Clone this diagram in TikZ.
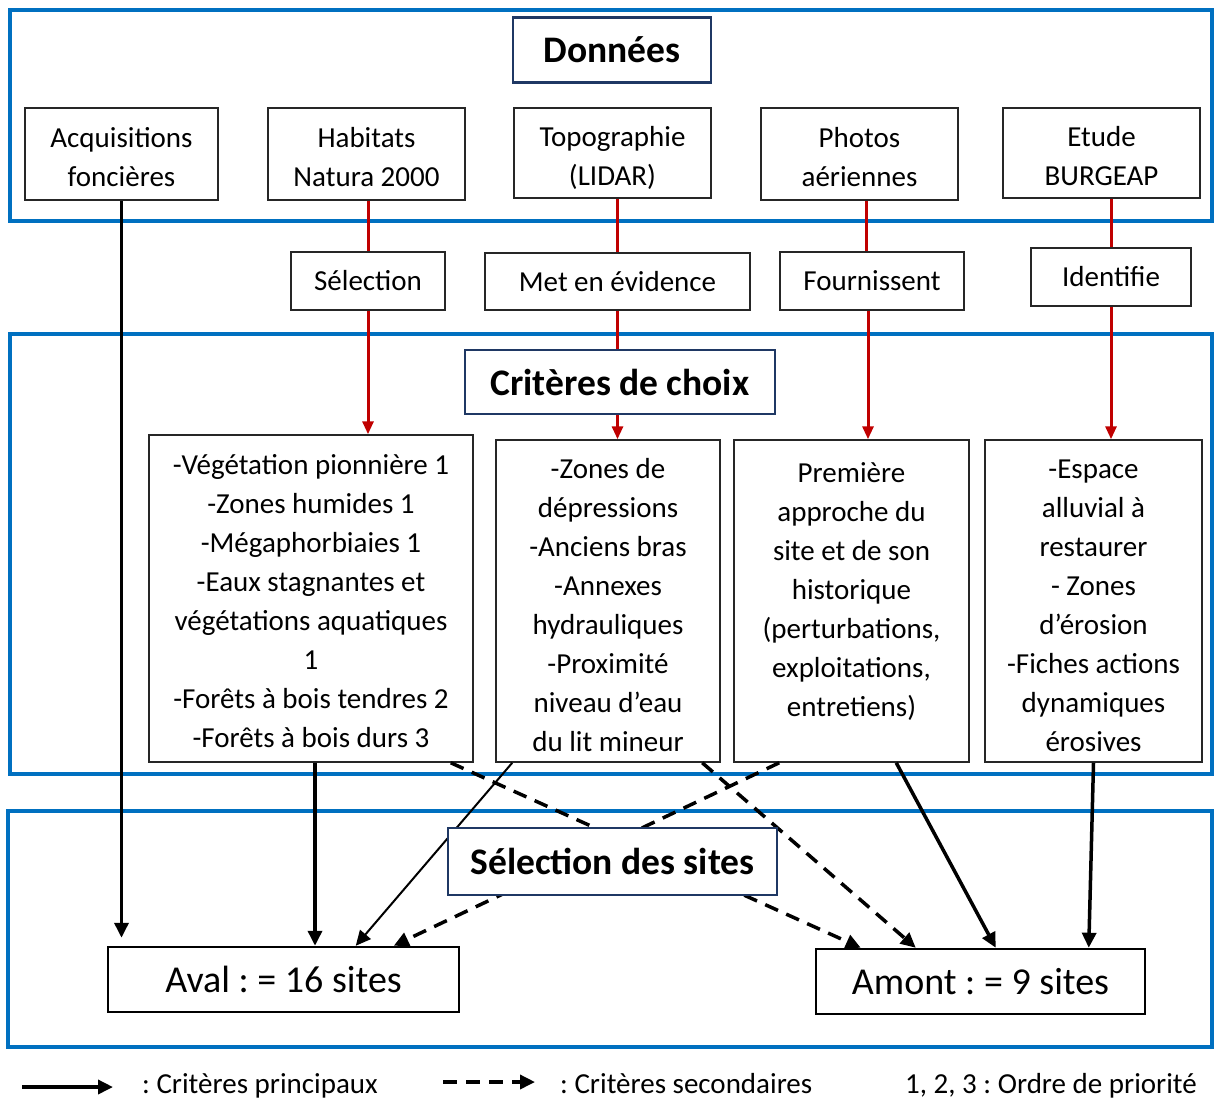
\documentclass[tikz,border=0pt]{standalone}
\usepackage{fontspec}
\setmainfont{Carlito}
\usetikzlibrary{arrows.meta,calc}
\definecolor{frameblue}{RGB}{0,112,192}
\definecolor{navy}{RGB}{31,56,100}
\definecolor{linkred}{RGB}{192,0,0}
\newcommand{\toppad}[1]{\rule{0pt}{#1}}
\tikzset{
  box/.style={draw=black!85, line width=1.5pt, fill=white, inner sep=0pt, align=center, font=\fontsize{29}{39}\selectfont},
  multibox/.style={box, execute at end node={\strut}},
  plaintext/.style={inner sep=0pt, align=center, font=\fontsize{29}{39}\selectfont, execute at end node=\strut},
  titlebox/.style={draw=navy, line width=2.5pt, fill=white, inner sep=0pt, font=\fontsize{37.5}{42}\selectfont\bfseries},
  resultbox/.style={draw=black, line width=2.5pt, fill=white, inner sep=0pt, font=\fontsize{38}{42}\selectfont},
  frame/.style={draw=frameblue, line width=4pt},
  redlink/.style={draw=linkred, line width=3pt},
  redarrow/.style={redlink, -{Triangle[length=13pt,width=11pt]}},
  mainarrow/.style={draw=black, line width=3.5pt, -{Triangle[length=15pt,width=14pt]}},
  secarrow/.style={mainarrow, dash pattern=on 14pt off 9pt},
  thinarrow/.style={mainarrow, line width=2pt},
  legendtext/.style={inner sep=0pt, font=\fontsize{29}{39}\selectfont}
}
\begin{document}
\frenchspacing
\begin{tikzpicture}[x=1pt,y=-1pt]
\useasboundingbox (0,0) rectangle (1214,1101);
% blue frames
\draw[frame] (10,10) rectangle (1212,221);
\draw[frame] (10,334) rectangle (1212,774);
\draw[frame] (8,811) rectangle (1212,1047);

% titles
\node[titlebox, minimum width=198pt, minimum height=65pt] (donnees) at (612,50) {Données};

% data boxes
\node[multibox, minimum width=193pt, minimum height=92pt] (acq) at (121.5,154) {\toppad{38pt}Acquisitions\\foncières};
\node[multibox, minimum width=197pt, minimum height=92pt] (hab) at (366.5,154) {\toppad{38pt}Habitats\\Natura 2000};
\node[multibox, minimum width=197pt, minimum height=90pt] (topo) at (612.5,153) {\toppad{38pt}Topographie\\(LIDAR)};
\node[multibox, minimum width=197pt, minimum height=92pt] (photo) at (859.5,154) {\toppad{38pt}Photos\\aériennes};
\node[multibox, minimum width=197pt, minimum height=90pt] (etude) at (1101.5,153) {\toppad{38pt}Etude\\BURGEAP};

% verb boxes
\node[box, minimum width=154pt, minimum height=58pt] (sel) at (368,281) {Sélection};
\node[box, minimum width=265pt, minimum height=57pt] (met) at (617.5,281.5) {Met en évidence};
\node[box, minimum width=184pt, minimum height=58pt] (four) at (872,281) {Fournissent};
\node[box, minimum width=160pt, minimum height=58pt] (ident) at (1111,277) {Identifie};

% content boxes
\node[multibox, minimum width=324pt, minimum height=327pt] (ca) at (311,598.5) {\toppad{36pt}-Végétation pionnière 1\\-Zones humides 1\\-Mégaphorbiaies 1\\-Eaux stagnantes et\\végétations aquatiques\\1\\-Forêts à bois tendres 2\\-Forêts à bois durs 3};
\node[box, minimum width=224pt, minimum height=322pt] (cb) at (608,601) {\toppad{29pt}-Zones de\\dépressions\\-Anciens bras\\-Annexes\\hydrauliques\\-Proximité\\niveau d’eau\\du lit mineur};
\node[box, minimum width=235pt, minimum height=322pt] (cc) at (851.5,601) {};
\node[plaintext] (cctext) at (851.5,595) {Première\\approche du\\site et de son\\historique\\(perturbations,\\exploitations,\\entretiens)};
\node[box, minimum width=217pt, minimum height=322pt] (cd) at (1093.5,601) {\toppad{29pt}-Espace\\alluvial à\\restaurer\\- Zones\\d’érosion\\-Fiches actions\\dynamiques\\érosives};

% results
\node[resultbox, minimum width=351pt, minimum height=65pt] (aval) at (283.5,979.5) {Aval : = 16 sites};
\node[resultbox, minimum width=329pt, minimum height=65pt] (amont) at (980.5,981.5) {Amont : = 9 sites};

% red links
\draw[redlink] (sel.north |- hab.south) -- (sel.north);
\draw[redarrow] (sel.south) -- (sel.south |- ca.north);
\draw[redlink] (met.north |- topo.south) -- (met.north);
\draw[redarrow] (met.south) -- (met.south |- cb.north);
\coordinate (ph) at ($(photo.south)+(7,0)$);
\draw[redlink] (ph) -- (ph |- four.north);
\coordinate (fo) at ($(four.south)+(-4,0)$);
\draw[redarrow] (fo) -- (fo |- cc.north);
\draw[redlink] (ident.north |- etude.south) -- (ident.north);
\draw[redarrow] (ident.south) -- (ident.south |- cd.north);

\node[titlebox, minimum width=310pt, minimum height=64pt] (criteres) at (620,382) {Critères de choix};

% black connectors
\draw[mainarrow, shorten >=8pt] (acq.south) -- (acq.south |- aval.north);
\coordinate (cas) at ($(ca.south)+(4,0)$);
\draw[mainarrow] (cas) -- (cas |- aval.north);
\draw[thinarrow] ($(cb.south west)+(17,0)$) -- ($(aval.north west)+(249,0)$);
\draw[secarrow] ($(cc.south west)+(46,0)$) -- ($(aval.north west)+(287,0)$);
\draw[secarrow] ($(ca.south east)+(-23,0)$) -- ($(amont.north west)+(46,0)$);
\draw[secarrow] ($(cb.south west)+(207,0)$) -- ($(amont.north west)+(101,0)$);
\draw[mainarrow] ($(cc.south west)+(163,0)$) -- ($(amont.north west)+(181,0)$);
\draw[mainarrow] (cd.south) -- ($(amont.north west)+(274,0)$);

\node[titlebox, minimum width=329pt, minimum height=67pt] (selsites) at (612.5,861.5) {Sélection des sites};

% legend
\coordinate (l1s) at (22,1087);
\coordinate (l1e) at (113,1087);
\draw[mainarrow] (l1s) -- (l1e);
\node[legendtext, anchor=base west] (l1t) at (142,1093) {: Critères principaux};
\coordinate (l2s) at (443,1082);
\coordinate (l2e) at (535,1082);
\draw[secarrow] (l2s) -- (l2e);
\node[legendtext, anchor=base west] (l2t) at (560,1093) {: Critères secondaires};
\node[legendtext, anchor=base west] (l3t) at (905,1093) {1, 2, 3 : Ordre de priorité};
\end{tikzpicture}
\end{document}
